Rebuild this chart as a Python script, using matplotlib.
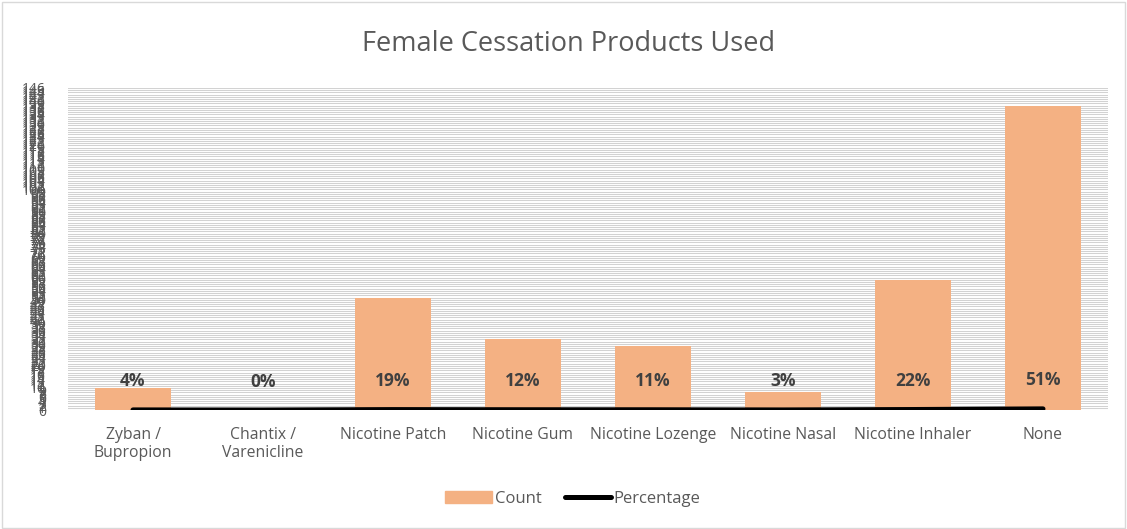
import matplotlib
matplotlib.use("Agg")
import matplotlib.pyplot as plt
import numpy as np
from matplotlib.patches import Rectangle
from matplotlib.lines import Line2D

categories = ["Zyban /\nBupropion", "Chantix /\nVarenicline", "Nicotine Patch", "Nicotine Gum",
              "Nicotine Lozenge", "Nicotine Nasal", "Nicotine Inhaler", "None"]
counts = [10, 0, 51, 32, 29, 8, 59, 138]
percentages = [0.04, 0.00, 0.19, 0.12, 0.11, 0.03, 0.22, 0.51]
pct_labels = ["4%", "0%", "19%", "12%", "11%", "3%", "22%", "51%"]
y_max = 146
y_ticks = list(range(0, y_max + 1))

plt.rcParams['font.family'] = ['Open Sans', 'DejaVu Sans']
text_color = "#595959"
bar_color = "#F4B183"

fig = plt.figure(figsize=(11.27, 5.29), dpi=100)
fig.patches.append(Rectangle((0.002, 0.002), 0.996, 0.994, transform=fig.transFigure,
                             fill=False, edgecolor="#D9D9D9", linewidth=1.0))

W, H = 1127, 529
left, right, top, bottom = 68, 1108, 88, 410
ax = fig.add_axes([left / W, 1 - bottom / H, (right - left) / W, (bottom - top) / H])

x = np.arange(len(categories))
ax.bar(x, counts, width=0.58, color=bar_color, zorder=2, label="Count")
ax.plot(x, percentages, color="black", linewidth=3.6, solid_capstyle="round", zorder=3,
        label="Percentage")
for xi, p, lab in zip(x, percentages, pct_labels):
    ax.annotate(lab, (xi, p), xytext=(0, 14), textcoords="offset points", ha="center",
                va="bottom", fontsize=12.5, fontweight="bold", color="#404040", zorder=4)

ax.set_xlim(-0.5, len(categories) - 0.5)
ax.set_ylim(0, y_max)
ax.set_yticks(y_ticks)
ax.set_yticklabels([str(v) for v in y_ticks], fontsize=10, color=text_color)
ax.yaxis.grid(True, color="#D2D2D2", linewidth=0.75, zorder=0)
ax.set_axisbelow(True)
ax.set_xticks(x)
ax.set_xticklabels(categories, fontsize=11.3, color=text_color)
ax.tick_params(axis="both", length=0)
ax.tick_params(axis="x", pad=12)
ax.tick_params(axis="y", pad=16)
for s in ax.spines.values():
    s.set_visible(False)

fig.text(569 / W, 1 - 44 / H, "Female Cessation Products Used", ha="center", va="center",
         fontsize=19.5, color=text_color)

handles = [Rectangle((0, 0), 1, 1, color=bar_color),
           Line2D([0], [0], color="black", linewidth=3.6, solid_capstyle="round")]
fig.legend(handles, ["Count", "Percentage"], loc="center", bbox_to_anchor=(573 / W, 1 - 499 / H),
           ncol=2, frameon=False, fontsize=12, handlelength=2.8, handletextpad=0.15,
           columnspacing=1.4, labelcolor=text_color)

fig.savefig("out.png", dpi=100)
